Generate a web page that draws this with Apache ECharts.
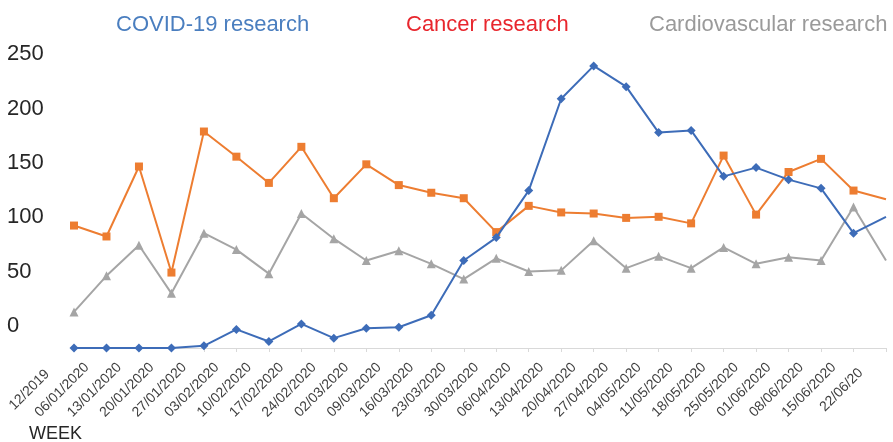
<!DOCTYPE html>
<html lang="en">
<head>
    <meta charset="UTF-8">
    <title>Weekly research output</title>
    <style>
        html, body { margin: 0; padding: 0; background: #fff; }
    </style>
</head>
<body>
<div class="main" style="width: 893px;height: 442px;"></div>
<script src="https://cdn.jsdelivr.net/npm/echarts@6/dist/echarts.min.js"></script>
<script>
    // week labels (last one is cut short in the original)
    var weeks = ['12/2019', '06/01/2020', '13/01/2020', '20/01/2020', '27/01/2020', '03/02/2020',
        '10/02/2020', '17/02/2020', '24/02/2020', '02/03/2020', '09/03/2020', '16/03/2020',
        '23/03/2020', '30/03/2020', '06/04/2020', '13/04/2020', '20/04/2020', '27/04/2020',
        '04/05/2020', '11/05/2020', '18/05/2020', '25/05/2020', '01/06/2020', '08/06/2020',
        '15/06/2020', '22/06/20'];

    var covid = [0, 0, 0, 0, 2, 17, 6, 22, 9, 18, 19, 30, 80, 101, 144, 228, 258, 239,
        197, 199, 157, 165, 154, 146, 105, 120];
    var cancer = [112, 102, 166, 69, 198, 175, 151, 184, 137, 168, 149, 142, 137, 106, 130, 124,
        123, 119, 120, 114, 176, 122, 161, 173, 144, 136];
    var cardio = [33, 66, 94, 50, 105, 90, 68, 123, 100, 80, 89, 77, 63, 82, 70, 71, 98, 73,
        84, 73, 92, 77, 83, 80, 129, 80];

    var yTicks = [0, 50, 100, 150, 200, 250];

    var main = document.querySelector(".main");
    var chart = echarts.init(main);

    var font = '"Liberation Sans", Arial, sans-serif';
    var lastIdx = weeks.length - 1;

    function sym(shape) {
        return function (v, p) {
            return p.dataIndex === lastIdx ? 'none' : shape;
        };
    }

    // the original draws its y labels ~22px above the values and its week labels
    // centred ~44px left of the ticks, so the labels live on helper grids
    var option = {
        animation: false,
        title: [
            {text: 'COVID-19 research', left: 116, top: 14, padding: 0,
                textStyle: {color: '#4a7ebf', fontSize: 22, fontWeight: 'normal', fontFamily: font}},
            {text: 'Cancer research', left: 406, top: 14, padding: 0,
                textStyle: {color: '#e8262d', fontSize: 22, fontWeight: 'normal', fontFamily: font}},
            {text: 'Cardiovascular research', left: 649, top: 14, padding: 0,
                textStyle: {color: '#9a9a9a', fontSize: 22, fontWeight: 'normal', fontFamily: font}},
            {text: 'WEEK', left: 29, top: 425, padding: 0,
                textStyle: {color: '#262626', fontSize: 18, fontWeight: 'normal', fontFamily: font}}
        ],
        grid: [
            {left: 74, right: 7, top: 20, bottom: 94},
            {left: 74, right: 7, top: -2, bottom: 116},
            {left: 29.5, right: 51.5, top: 20, bottom: 94}
        ],
        xAxis: [
            {
                gridIndex: 0,
                type: 'category',
                data: weeks,
                boundaryGap: false,
                axisLine: {lineStyle: {color: '#d9d9d9', width: 1}},
                axisTick: {show: true, interval: 0, length: 4, lineStyle: {color: '#d9d9d9'}},
                axisLabel: {show: false, interval: 0},
                splitLine: {show: false}
            },
            {gridIndex: 1, type: 'category', data: weeks, show: false},
            {
                gridIndex: 2,
                type: 'category',
                data: weeks,
                boundaryGap: false,
                axisLine: {show: false},
                axisTick: {show: false},
                splitLine: {show: false},
                axisLabel: {
                    interval: 0,
                    rotate: 45,
                    align: 'center',
                    verticalAlign: 'middle',
                    margin: 42,
                    fontSize: 14,
                    color: '#404040',
                    fontFamily: font
                }
            }
        ],
        yAxis: [
            {
                gridIndex: 0,
                type: 'value', min: 0, max: 300, interval: 50,
                axisLine: {show: false}, axisTick: {show: false},
                splitLine: {show: false}, axisLabel: {show: false}
            },
            {
                gridIndex: 1,
                type: 'value', min: 0, max: 300, interval: 50,
                axisLine: {show: false}, axisTick: {show: false},
                splitLine: {show: false},
                axisLabel: {
                    align: 'left',
                    margin: 67,
                    fontSize: 22,
                    color: '#262626',
                    fontFamily: font,
                    formatter: function (v) {
                        return yTicks.indexOf(v) >= 0 ? String(v) : '';
                    }
                }
            },
            {gridIndex: 2, type: 'value', min: 0, max: 300, show: false}
        ],
        series: [
            {
                name: 'COVID-19 research', type: 'line', data: covid,
                symbol: sym('diamond'), symbolSize: 9,
                lineStyle: {color: '#3d6cb8', width: 2},
                itemStyle: {color: '#3d6cb8'},
                z: 4
            },
            {
                name: 'Cancer research', type: 'line', data: cancer,
                symbol: sym('rect'), symbolSize: 8,
                lineStyle: {color: '#ed7d31', width: 2},
                itemStyle: {color: '#ed7d31'},
                z: 3
            },
            {
                name: 'Cardiovascular research', type: 'line', data: cardio,
                symbol: sym('triangle'), symbolSize: 9,
                lineStyle: {color: '#a5a5a5', width: 2},
                itemStyle: {color: '#a5a5a5'},
                z: 2
            }
        ]
    };
    chart.setOption(option);
</script>
</body>
</html>
